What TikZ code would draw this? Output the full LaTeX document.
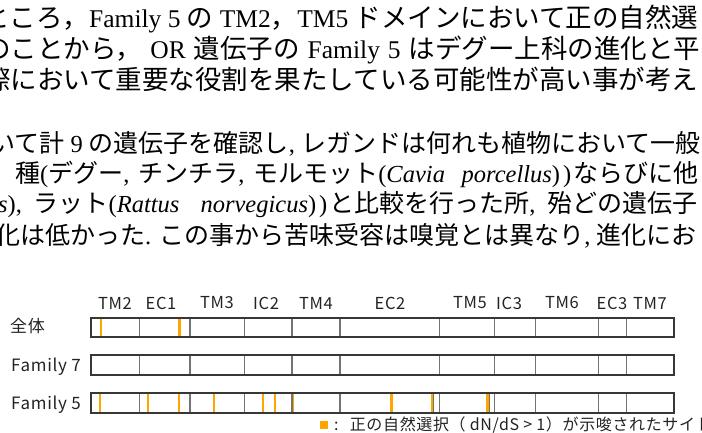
\documentclass[tikz,border=0pt]{standalone}
\usepackage{fontspec}
\setmainfont{Liberation Serif}
\newfontfamily\Jp{Noto Sans CJK JP}
\newfontfamily\En{Liberation Serif}
\newfontfamily\Dg[LetterSpace=4]{Noto Sans CJK JP}
\usepackage{xcolor}
\definecolor{Col1}{RGB}{55,55,55}
\definecolor{Col2}{RGB}{115,115,115}
\definecolor{Col3}{RGB}{255,165,0}
\definecolor{Col4}{RGB}{35,35,35}
\usepackage{tikz}
\tikzstyle{ParA}=[anchor=base west,inner sep=0pt,
font=\Jp\fontsize{26.5}{30}\selectfont]
\tikzstyle{ParB}=[anchor=base west,inner sep=0pt,
font=\Jp\fontsize{25}{30}\selectfont]
\newcommand{\La}[1]{{\En\fontsize{25.5}{30}\selectfont#1}}
\newcommand{\Lb}[1]{{\En\fontsize{24.5}{30}\selectfont#1}}
\tikzstyle{Seg}=[text=Col4,inner sep=0pt,font=\Dg\fontsize{16.5}{18}\selectfont]
\tikzstyle{Row}=[Seg,anchor=west,font=\Dg\fontsize{17}{18}\selectfont]
\tikzstyle{Bar}=[draw=Col1,line width=1.4pt]
\tikzstyle{Div}=[draw=Col2,line width=1.1pt]
\tikzstyle{Mark}=[draw=Col3,line width=2.4pt]
\tikzstyle{Edge}=[draw=Col2,line width=.6pt]

\begin{document}
\begin{tikzpicture}[x=1pt,y=-1pt]
\useasboundingbox(0,0)rectangle(702,433);
% text above
\node[ParA](p1)at(-17,28){ところ，\La{Family 5 }の\La{ TM2}，\La{TM5 }ドメインにおいて正の自然選};
\node[ParA](p2)at(-16,59){\makebox[716pt][s]{のことから，\La{ OR }遺伝子の\La{ Family 5 }はデグー上科の進化と平}};
\node[ParA](p3)at(-16,90){際において重要な役割を果たしている可能性が高い事が考え};
\node[ParB](q1)at(-10,153){いて計\Lb{ 9 }の遺伝子を確認し\Lb{, }レガンドは何れも植物において一般};
\node[ParB](q2)at(15,183){\makebox[683pt][s]{種\Lb{(}デグー\Lb{, }チンチラ\Lb{, }モルモット\Lb{(\itshape Cavia\ \ porcellus\upshape)\kern3pt)\kern2pt}ならびに他}};
\node[ParB](q3)at(-2,213){\makebox[699pt][s]{\Lb{\itshape s\upshape), }ラット\Lb{(\itshape Rattus\ \ norvegicus\upshape)\kern3pt)\kern2pt}と比較を行った所\Lb{, }殆どの遺伝子}};
\node[ParB](q4)at(-5,244){化は低かった\Lb{. }この事から苦味受容は嗅覚とは異なり\Lb{, }進化にお};
% domain labels
\node[Seg](tm2)at(115,303){TM2};
\node[Seg](ec1)at(161,303){EC1};
\node[Seg](tm3)at(217,303){TM3};
\node[Seg](ic2)at(266,303){IC2};
\node[Seg](tm4)at(316,303){TM4};
\node[Seg](ec2)at(390,303){EC2};
\node[Seg](tm5)at(470,303){TM5};
\node[Seg](ic3)at(509,303){IC3};
\node[Seg](tm6)at(562,303){TM6};
\node[Seg](ec3)at(612,303){EC3};
\node[Seg](tm7)at(650,303){TM7};
\node[Row](all)at(10,326.5){全体};
\node[Row](f7)at(11,367){Family 7};
\node[Row](f5)at(11,404.5){Family 5};
% bars
\coordinate(a1)at(91,318);\coordinate(b1)at(674,337);
\coordinate(a2)at(91,355);\coordinate(b2)at(674,375);
\coordinate(a3)at(91,393);\coordinate(b3)at(674,413);
\draw[Mark](100.7,318)--(100.7,337)(179.3,318)--(179.3,337);
\draw[Mark](100,393)--(100,413)(148,393)--(148,413)(179,393)--(179,413)
  (214,393)--(214,413)(262.7,393)--(262.7,413)(275,393)--(275,413)
  (293,393)--(293,413)(391.3,393)--(391.3,413)(431.7,393)--(431.7,413)
  (487.5,393)--(487.5,413);
\draw[Edge](433.6,393)--(433.6,413)(489.4,393)--(489.4,413);
\draw[Div](139.5,318)--(139.5,337)(190,318)--(190,337)(244.5,318)--(244.5,337)
  (292,318)--(292,337)(340,318)--(340,337)(439.5,318)--(439.5,337)
  (494.5,318)--(494.5,337)(535.5,318)--(535.5,337)(598.5,318)--(598.5,337)
  (626.5,318)--(626.5,337);
\draw[Div](139.5,355)--(139.5,375)(190,355)--(190,375)(244.5,355)--(244.5,375)
  (292,355)--(292,375)(340,355)--(340,375)(439.5,355)--(439.5,375)
  (494.5,355)--(494.5,375)(535.5,355)--(535.5,375)(598.5,355)--(598.5,375)
  (626.5,355)--(626.5,375);
\draw[Div](139.5,393)--(139.5,413)(190,393)--(190,413)(244.5,393)--(244.5,413)
  (292,393)--(292,413)(340,393)--(340,413)(439.5,393)--(439.5,413)
  (494.5,393)--(494.5,413)(535.5,393)--(535.5,413)(598.5,393)--(598.5,413)
  (626.5,393)--(626.5,413);
\draw[Bar](a1)rectangle(b1);
\draw[Bar](a2)rectangle(b2);
\draw[Bar](a3)rectangle(b3);
% legend
\node[fill=Col3,minimum size=8pt,inner sep=0pt](sq)at(324,424.5){};
\node[Seg,anchor=west,font=\Dg\fontsize{16}{18}\selectfont](leg)at(334,425)
  {:\hspace{0.7em}正の自然選択（ dN/dS > 1）が示唆されたサイト};
\end{tikzpicture}
\end{document}
